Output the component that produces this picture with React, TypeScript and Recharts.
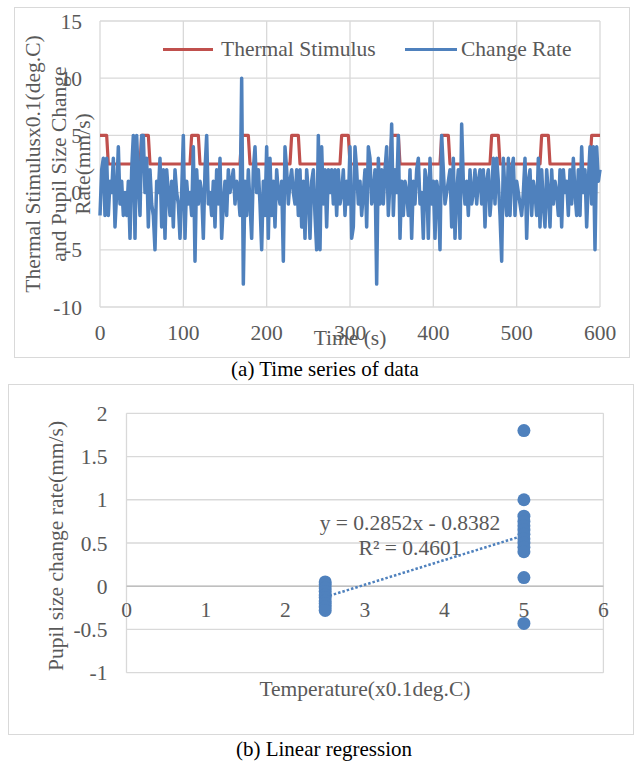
import React from 'react';
import { LineChart, Line, XAxis, YAxis, CartesianGrid, ScatterChart, Scatter, ReferenceLine, ReferenceDot, Label } from 'recharts';

const FONT = "'Liberation Serif', 'DejaVu Serif', serif";
const GREY = '#595959';
const GRID = '#d9d9d9';
const RED = '#c0504d';
const BLUE = '#4f81bd';
const FS = 21.5;

// (a) time series, one sample every 2 s from 0 to 600 s
const SAMPLE_STEP = 2;

const thermalStimulus = [
  5, 5, 5, 5, 5, 2.5, 2.5, 2.5, 2.5, 2.5,
  2.5, 2.5, 2.5, 2.5, 2.5, 2.5, 2.5, 2.5, 2.5, 2.5,
  2.5, 2.5, 2.5, 2.5, 2.5, 5, 5, 5, 5, 5,
  2.5, 2.5, 2.5, 2.5, 2.5, 2.5, 2.5, 2.5, 2.5, 2.5,
  2.5, 2.5, 2.5, 2.5, 2.5, 2.5, 2.5, 2.5, 2.5, 2.5,
  2.5, 2.5, 2.5, 2.5, 2.5, 5, 5, 5, 5, 5,
  2.5, 2.5, 2.5, 2.5, 2.5, 2.5, 2.5, 2.5, 2.5, 2.5,
  2.5, 2.5, 2.5, 2.5, 2.5, 2.5, 2.5, 2.5, 2.5, 2.5,
  2.5, 2.5, 2.5, 2.5, 2.5, 5, 5, 5, 5, 5,
  2.5, 2.5, 2.5, 2.5, 2.5, 2.5, 2.5, 2.5, 2.5, 2.5,
  2.5, 2.5, 2.5, 2.5, 2.5, 2.5, 2.5, 2.5, 2.5, 2.5,
  2.5, 2.5, 2.5, 2.5, 2.5, 5, 5, 5, 5, 5,
  2.5, 2.5, 2.5, 2.5, 2.5, 2.5, 2.5, 2.5, 2.5, 2.5,
  2.5, 2.5, 2.5, 2.5, 2.5, 2.5, 2.5, 2.5, 2.5, 2.5,
  2.5, 2.5, 2.5, 2.5, 2.5, 5, 5, 5, 5, 5,
  2.5, 2.5, 2.5, 2.5, 2.5, 2.5, 2.5, 2.5, 2.5, 2.5,
  2.5, 2.5, 2.5, 2.5, 2.5, 2.5, 2.5, 2.5, 2.5, 2.5,
  2.5, 2.5, 2.5, 2.5, 2.5, 5, 5, 5, 5, 5,
  2.5, 2.5, 2.5, 2.5, 2.5, 2.5, 2.5, 2.5, 2.5, 2.5,
  2.5, 2.5, 2.5, 2.5, 2.5, 2.5, 2.5, 2.5, 2.5, 2.5,
  2.5, 2.5, 2.5, 2.5, 2.5, 5, 5, 5, 5, 5,
  2.5, 2.5, 2.5, 2.5, 2.5, 2.5, 2.5, 2.5, 2.5, 2.5,
  2.5, 2.5, 2.5, 2.5, 2.5, 2.5, 2.5, 2.5, 2.5, 2.5,
  2.5, 2.5, 2.5, 2.5, 2.5, 5, 5, 5, 5, 5,
  2.5, 2.5, 2.5, 2.5, 2.5, 2.5, 2.5, 2.5, 2.5, 2.5,
  2.5, 2.5, 2.5, 2.5, 2.5, 2.5, 2.5, 2.5, 2.5, 2.5,
  2.5, 2.5, 2.5, 2.5, 2.5, 5, 5, 5, 5, 5,
  2.5, 2.5, 2.5, 2.5, 2.5, 2.5, 2.5, 2.5, 2.5, 2.5,
  2.5, 2.5, 2.5, 2.5, 2.5, 2.5, 2.5, 2.5, 2.5, 2.5,
  2.5, 2.5, 2.5, 2.5, 2.5, 5, 5, 5, 5, 5,
  5,
];

const changeRate = [
  -2, 2, 3, -2, 3, -2, 1, 0, 3, -3,
  0, 4, -1, 1, -2, 0, -2, 1, -4, 2,
  5, -4, 5, 1, -2, 5, 5, 0, 3, -3,
  2, -1, -2, -5, 1, 0, 3, -3, 2, -4,
  2, 0, -2, 1, -3, 2, 0, -1, -4, 0,
  5, -4, 1, -1, 0, -2, 4, -6, 2, -1,
  1, 0, -4, 2, 5, -1, 0, -2, 1, -3,
  2, -1, 3, -4, -1, 1, -2, 2, 0, 1,
  2, -1, 1, 0, -2, 10, -8, 1, -2, 2,
  -1, -4, 2, 4, 0, 2, -1, -5, 1, -2,
  4, -4, 3, -2, 1, -3, 2, 0, -1, 1,
  -6, 4, 2, -1, 1, 2, 0, -1, 2, -2,
  2, -3, 1, -4, 2, 0, -4, 1, 2, -2,
  -5, 5, -5, 4, -1, 2, -3, 2, 0, 2,
  -1, 2, -2, 2, -1, 0, 2, -2, 1, -1,
  4, -4, -3, 4, 2, -1, 1, -2, 0, 2,
  -3, 4, 3, -1, 0, 2, -8, 3, -1, 2,
  -1, 2, 4, -2, 1, 6, -2, 2, 0, 5,
  -4, 1, -2, 1, 0, -2, 2, -4, 1, -1,
  2, 3, -1, 0, -4, 2, 1, -4, 3, -1,
  1, -4, 1, 0, -5, 5, 2, -1, 0, 1,
  2, -3, 3, -4, 0, 2, -4, 6, 1, -1,
  1, -2, 2, -1, 0, 2, -1, 1, 2, -1,
  2, -3, 1, 2, -2, 0, 3, -1, 3, 1,
  -2, -6, 3, 0, -2, 3, -2, 2, 3, -2,
  1, 0, -1, -2, 0, 3, -4, 1, 2, -2,
  1, 0, -2, 3, -3, 2, -1, -3, 2, 0,
  -3, 2, -1, 1, 0, -2, 2, -3, 2, 0,
  1, -2, 2, -1, 3, 0, -2, 2, -2, 4,
  0, 2, -3, 1, 4, -1, 4, -5, 4, 1,
  2,
];

const timeTicks = [0, 100, 200, 300, 400, 500, 600];
const topYTicks = [-10, -5, 0, 5, 10, 15];
const topYTitle = ['Thermal Stimulusx0.1(deg.C)', 'and Pupil Size Change', 'Rate(mm/s)'];

// (b) regression
const tempLow = 2.5;
const tempHigh = 5;
const rateAtLow = [0.05, 0.02, -0.02, -0.06, -0.1, -0.13, -0.17, -0.2, -0.24, -0.28];
const rateAtHigh = [1.8, 1.0, 0.81, 0.75, 0.7, 0.65, 0.6, 0.55, 0.5, 0.45, 0.4, 0.1, -0.43];
const slope = 0.2852;
const intercept = -0.8382;
const rSquared = 0.4601;
const tempTicks = [0, 1, 2, 3, 4, 5, 6];
const rateTicks = [-1, -0.5, 0, 0.5, 1, 1.5, 2];

const seriesData = changeRate.map((rate, i) => ({ t: i * SAMPLE_STEP, thermal: thermalStimulus[i], rate }));
const scatterData = [
  ...rateAtLow.map((y) => ({ x: tempLow, y })),
  ...rateAtHigh.map((y) => ({ x: tempHigh, y })),
];
const trendEnds = [tempLow, tempHigh].map((x) => ({ x, y: slope * x + intercept }));

const tickStyle = { fill: GREY, fontSize: FS, fontFamily: FONT };

function TopYTitle(props: any) {
  const { x, y, width, height } = props.viewBox;
  const right = x + width;
  const cy = y + height / 2;
  const offsets = [-67, -41, -17];
  return (
    <g>
      {topYTitle.map((line, i) => (
        <text key={line} x={right + offsets[i]} y={cy} transform={`rotate(-90 ${right + offsets[i]} ${cy})`}
          textAnchor="middle" dominantBaseline="central" fill={GREY} fontSize={FS} fontFamily={FONT}>
          {line}
        </text>
      ))}
    </g>
  );
}

function TimeTitle(props: any) {
  const { x, y, width } = props.viewBox;
  return (
    <text x={x + width / 2} y={y + 38} textAnchor="middle" fill={GREY} fontSize={FS} fontFamily={FONT}>Time (s)</text>
  );
}

function RateTitle(props: any) {
  const { x, y, width, height } = props.viewBox;
  const cx = x + width - 71;
  const cy = y + height / 2 + 3;
  return (
    <text x={cx} y={cy} transform={`rotate(-90 ${cx} ${cy})`} textAnchor="middle" dominantBaseline="central"
      fill={GREY} fontSize={FS} fontFamily={FONT}>
      Pupil size change rate(mm/s)
    </text>
  );
}

function TempTitle(props: any) {
  const { x, y, width } = props.viewBox;
  return (
    <text x={x + width / 2} y={y + 23} textAnchor="middle" fill={GREY} fontSize={FS} fontFamily={FONT}>
      Temperature(x0.1deg.C)
    </text>
  );
}

function Dot(props: any) {
  return <circle cx={props.cx} cy={props.cy} r={6.5} fill={BLUE} />;
}

export default function App() {
  return (
    <div style={{ position: 'absolute', left: 0, top: 0, width: 636, height: 763, background: '#fff', fontFamily: FONT }}>
      <div style={{ position: 'absolute', left: 14, top: 7, width: 614, height: 349, border: `1px solid ${GRID}` }} />
      <div style={{ position: 'absolute', left: 0, top: 0 }}>
        <LineChart width={636} height={370} data={seriesData} margin={{ top: 21, right: 36, bottom: 23, left: 20 }}>
          <CartesianGrid stroke={GRID} strokeWidth={1.3} />
          <XAxis dataKey="t" type="number" domain={[0, 600]} ticks={timeTicks} axisLine={false} tickLine={false}
            tickMargin={12} height={40} tick={tickStyle} label={<Label content={TimeTitle} />} />
          <YAxis type="number" domain={[-10, 15]} ticks={topYTicks} axisLine={false} tickLine={false}
            tickMargin={12} width={80} tick={tickStyle} label={<Label content={TopYTitle} />} />
          <Line type="linear" dataKey="thermal" stroke={RED} strokeWidth={3.2} strokeLinejoin="round" dot={false} isAnimationActive={false} />
          <Line type="linear" dataKey="rate" stroke={BLUE} strokeWidth={3.5} strokeLinejoin="round" dot={false} isAnimationActive={false} />
        </LineChart>
      </div>
      <div style={{ position: 'absolute', left: 163, top: 48, width: 50, height: 3, background: RED }} />
      <div style={{ position: 'absolute', left: 221, top: 36, fontSize: FS, lineHeight: '26px', color: GREY }}>Thermal Stimulus</div>
      <div style={{ position: 'absolute', left: 405, top: 48, width: 52, height: 3, background: BLUE }} />
      <div style={{ position: 'absolute', left: 461, top: 36, fontSize: FS, lineHeight: '26px', color: GREY }}>Change Rate</div>
      <div style={{ position: 'absolute', left: 175, top: 359, width: 300, textAlign: 'center', fontSize: 21, lineHeight: '21px', color: '#000' }}>
        (a) Time series of data
      </div>

      <div style={{ position: 'absolute', left: 8, top: 384, width: 624, height: 349, border: `1px solid ${GRID}` }} />
      <div style={{ position: 'absolute', left: 0, top: 380 }}>
        <ScatterChart width={636} height={383} margin={{ top: 33.3, right: 32.6, bottom: 50.3, left: 46.5 }}>
          <CartesianGrid stroke={GRID} strokeWidth={1.3} />
          <XAxis dataKey="x" type="number" domain={[0, 6]} ticks={tempTicks} tick={false} axisLine={false} tickLine={false}
            height={40} label={<Label content={TempTitle} />} />
          <YAxis dataKey="y" type="number" domain={[-1, 2]} ticks={rateTicks} axisLine={false} tickLine={false}
            tickMargin={13} width={80} tick={tickStyle} label={<Label content={RateTitle} />} />
          <ReferenceLine y={0} stroke="#bfbfbf" strokeWidth={1.3} />
          {tempTicks.map((v) => (
            <ReferenceDot key={v} x={v} y={0} r={0} fill="none" stroke="none"
              label={{ value: v, position: 'bottom', offset: 16, fill: GREY, fontSize: FS, fontFamily: FONT }} />
          ))}
          <ReferenceLine segment={trendEnds} stroke={BLUE} strokeWidth={2.5} strokeDasharray="2.5 2" />
          <Scatter data={scatterData} fill={BLUE} shape={Dot} isAnimationActive={false} />
        </ScatterChart>
      </div>
      <div style={{ position: 'absolute', left: 300, top: 511, width: 220, textAlign: 'center', fontSize: FS, lineHeight: '25px', color: GREY }}>
        y = {slope}x - {Math.abs(intercept)}
        <br />
        R² = {rSquared}
      </div>
      <div style={{ position: 'absolute', left: 174, top: 739, width: 300, textAlign: 'center', fontSize: 21, lineHeight: '21px', color: '#000' }}>
        (b) Linear regression
      </div>
    </div>
  );
}
